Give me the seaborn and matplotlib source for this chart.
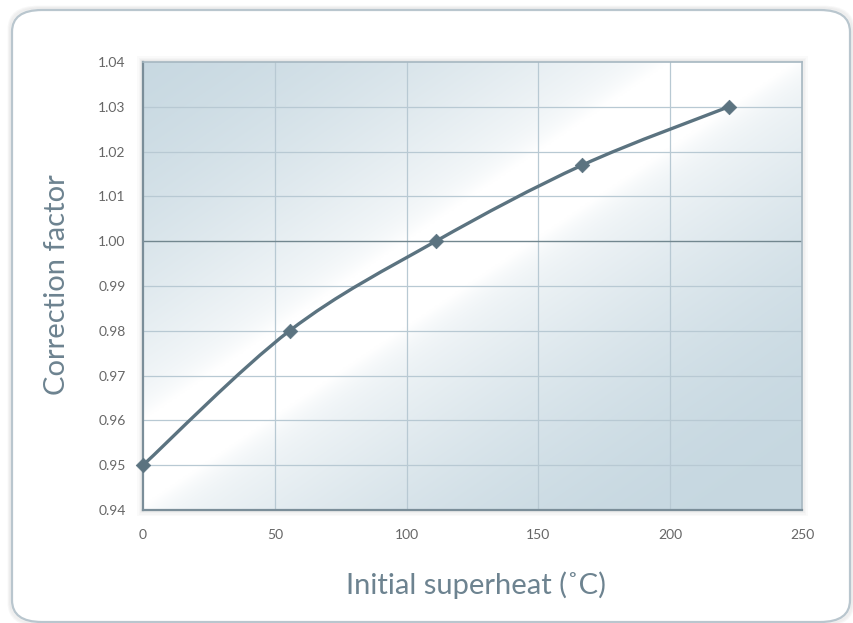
import numpy as np
import pandas as pd
import matplotlib
matplotlib.use("Agg")
import matplotlib.pyplot as plt
import seaborn as sns
from matplotlib.path import Path
from matplotlib.patches import PathPatch, FancyBboxPatch, Rectangle

# Superheat correction data
superheat_c = [0.0, 55.6, 111.1, 166.7, 222.2]
correction = [0.95, 0.98, 1.00, 1.017, 1.03]
x_ticks = [0, 50, 100, 150, 200, 250]
y_ticks = [0.94, 0.95, 0.96, 0.97, 0.98, 0.99, 1.00, 1.01, 1.02, 1.03, 1.04]
x_label = "Initial superheat (\u02daC)"
y_label = "Correction factor"

sns.set_theme(style="white")
plt.rcParams["font.family"] = ["Lato", "DejaVu Sans"]

W, H = 854, 623
fig = plt.figure(figsize=(W / 100, H / 100), dpi=100)
fig.patch.set_facecolor("white")

# Rounded card with a soft shadow
for i, a in enumerate([0.05, 0.05, 0.06]):
    pad = 3 - i
    fig.patches.append(FancyBboxPatch(
        ((12 - pad) / W, (1 - pad) / H), (850 - 12 + 2 * pad) / W, (612 + 2 * pad) / H,
        boxstyle="round,pad=0,rounding_size=0.035", transform=fig.transFigure,
        facecolor="none", edgecolor=(0.45, 0.45, 0.45, a), lw=2.0, zorder=0))
fig.patches.append(FancyBboxPatch(
    (12 / W, 1 / H), (850 - 12) / W, 612 / H,
    boxstyle="round,pad=0,rounding_size=0.035", transform=fig.transFigure,
    facecolor="white", edgecolor="#b9c6ce", lw=1.6, zorder=0.5))

left, right, top, bottom = 143, 802, 62, 510

# Soft shadow around the plotting area
for i, a in enumerate([0.03, 0.03, 0.035, 0.045]):
    d = 6 - 1.5 * i
    fig.patches.append(Rectangle(((left - d) / W, 1 - (bottom + d) / H),
                                 (right - left + 2 * d) / W, (bottom - top + 2 * d) / H,
                                 transform=fig.transFigure, facecolor=(0.4, 0.4, 0.4, a),
                                 edgecolor="none", zorder=0.6))

ax = fig.add_axes([left / W, 1 - bottom / H, (right - left) / W, (bottom - top) / H])
ax.set_zorder(2)
ax.set_xlim(0, 250)
ax.set_ylim(0.94, 1.04)

# Diagonal sheen background
nx, ny = 400, 300
u = np.linspace(0, 1, nx)[None, :]
v = np.linspace(0, 1, ny)[:, None]  # 0 at top
t = u + v
c_blue = np.array([0.78, 0.847, 0.882])
c_white = np.array([1.0, 1.0, 1.0])
w = np.clip(1 - np.abs(t - 0.88) / 0.95, 0, 1) ** 1.6
w2 = np.exp(-((t - 0.9) / 0.09) ** 2) * 0.5
w = np.clip(w + w2, 0, 1)
img = c_blue[None, None, :] * (1 - w[..., None]) + c_white[None, None, :] * w[..., None]
ax.imshow(img, extent=[0, 250, 0.94, 1.04], origin="upper", aspect="auto",
          interpolation="bilinear", zorder=0)

# Grid
for xt in x_ticks[1:-1]:
    ax.axvline(xt, color="#b8c9d3", lw=0.9, zorder=1)
for yt in y_ticks[1:-1]:
    if abs(yt - 1.00) < 1e-9:
        ax.axhline(yt, color="#72878f", lw=1.0, zorder=1.5)
    else:
        ax.axhline(yt, color="#b8c9d3", lw=0.9, zorder=1)

# Smoothed curve through the points (Catmull-Rom as cubic Bezier segments)
px = np.array(superheat_c)
py = np.array(correction)
P = np.column_stack([px, py])
Pe = np.vstack([P[0], P, P[-1]])
verts = [tuple(P[0])]
codes = [Path.MOVETO]
for i in range(len(P) - 1):
    p0, p1, p2, p3 = Pe[i], Pe[i + 1], Pe[i + 2], Pe[i + 3]
    c1 = p1 + (p2 - p0) / 6.0
    c2 = p2 - (p3 - p1) / 6.0
    verts += [tuple(c1), tuple(c2), tuple(p2)]
    codes += [Path.CURVE4] * 3
ax.add_patch(PathPatch(Path(verts, codes), facecolor="none", edgecolor="#5b7380",
                       lw=2.4, zorder=3, capstyle="round", joinstyle="round"))

df = pd.DataFrame({"x": superheat_c, "y": correction})
sns.scatterplot(data=df, x="x", y="y", marker="D", s=55, color="#5b7380",
                edgecolor="#5b7380", linewidth=0.5, ax=ax, zorder=4, clip_on=False)

# Axes styling
ax.set_xlim(0, 250)
ax.set_ylim(0.94, 1.04)
ax.set_xticks(x_ticks)
ax.set_yticks(y_ticks)
ax.set_xticklabels([str(v) for v in x_ticks])
ax.set_yticklabels([f"{v:.2f}" for v in y_ticks])
ax.tick_params(axis="both", which="major", labelsize=10, colors="#7b8a92",
               labelcolor="#666666", length=3, width=1.0, direction="out")
ax.tick_params(axis="x", pad=10.5)
ax.tick_params(axis="y", pad=9.5)
for s in ["left", "bottom"]:
    ax.spines[s].set_color("#7b8e99")
    ax.spines[s].set_linewidth(1.6)
for s in ["right", "top"]:
    ax.spines[s].set_color("#a6b7c1")
    ax.spines[s].set_linewidth(1.2)
ax.set_xlabel("")
ax.set_ylabel("")

fig.text(476 / W, 1 - 585 / H, x_label, ha="center", va="center",
         fontsize=21, color="#6d8390")
fig.text(57 / W, 1 - 285 / H, y_label, ha="center", va="center", rotation=90,
         fontsize=21, color="#6d8390")

fig.savefig("out.png", dpi=100, facecolor="white")
